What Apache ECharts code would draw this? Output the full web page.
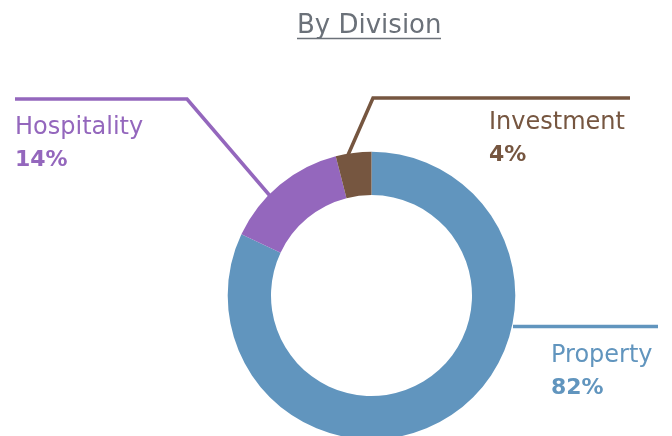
<!DOCTYPE html>
<html>
<head>
<meta charset="utf-8">
<script src="https://cdn.jsdelivr.net/npm/echarts@6/dist/echarts.min.js"></script>
<style>
html,body{margin:0;padding:0;background:#fff;}
#chart{width:672px;height:436px;}
</style>
</head>
<body>
<div id="chart"></div>
<script>
var titleText = 'By Division';
var categories = ['Property', 'Hospitality', 'Investment'];
var values = [82, 14, 4];
var colors = ['#6195BE', '#9467BD', '#765640'];

var FONT = '"DejaVu Sans", sans-serif';

// label anchor (text box top-left) and label line routes, per slice
var labelPos = [
  {x: 551, y: 340},
  {x: 15, y: 112},
  {x: 489, y: 107}
];
var linePts = [
  [[513, 326.5], [585, 326.5], [658, 326.5]],
  [[271, 197], [187, 99], [15, 99]],
  [[348, 155], [373, 98], [630, 98]]
];

var data = categories.map(function (c, i) {
  return {
    name: c,
    value: values[i],
    itemStyle: {color: colors[i]},
    label: {
      rich: {
        n: {fontFamily: FONT, fontSize: 24, color: colors[i], lineHeight: 32},
        p: {fontFamily: FONT, fontSize: 22, fontWeight: 'bold', color: colors[i], lineHeight: 32}
      }
    },
    labelLine: {show: true, lineStyle: {color: colors[i], width: 3.5}}
  };
});

var chart = echarts.init(document.getElementById('chart'), null, {renderer: 'canvas'});
chart.setOption({
  animation: false,
  backgroundColor: '#ffffff',
  title: {
    text: titleText,
    left: 292,
    top: 8,
    textStyle: {fontFamily: FONT, fontSize: 26, fontWeight: 'normal', color: '#6B7179'}
  },
  graphic: [{
    type: 'line',
    shape: {x1: 297, y1: 38.5, x2: 441, y2: 38.5},
    style: {stroke: '#6B7179', lineWidth: 1.5}
  }],
  series: [{
    type: 'pie',
    center: [371.5, 295.5],
    radius: [100.5, 143.8],
    startAngle: 90,
    clockwise: true,
    data: data,
    label: {
      show: true,
      position: 'outside',
      formatter: function (p) { return '{n|' + p.name + '}\n{p|' + Math.round(p.percent) + '%}'; }
    },
    labelLine: {show: true, length: 10, length2: 10, smooth: false, lineStyle: {width: 3.5}},
    labelLayout: function (params) {
      var i = params.dataIndex;
      return {
        x: labelPos[i].x,
        y: labelPos[i].y,
        align: 'left',
        verticalAlign: 'top',
        labelLinePoints: linePts[i]
      };
    },
    emphasis: {disabled: true}
  }]
});
</script>
</body>
</html>
